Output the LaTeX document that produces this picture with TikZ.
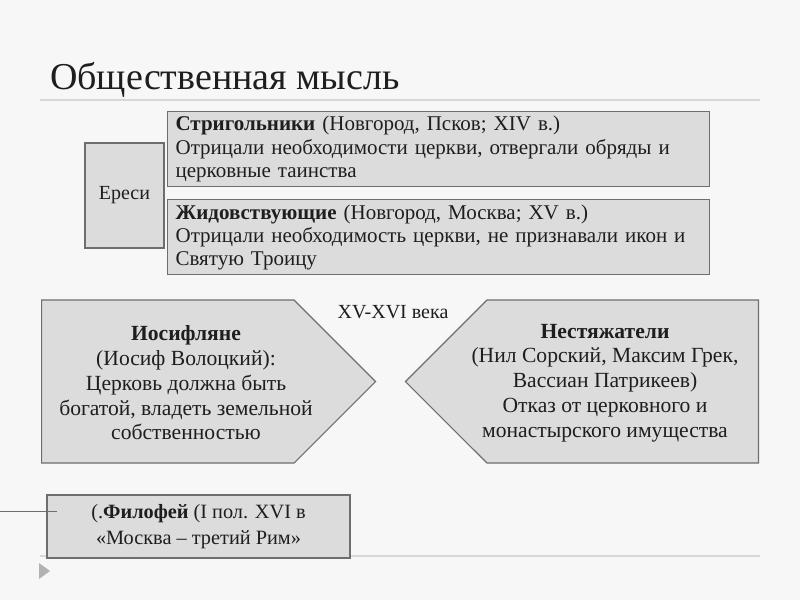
\documentclass[tikz,border=0pt]{standalone}
\usepackage{fontspec}
\setmainfont{Liberation Serif}
\usetikzlibrary{positioning,shapes.symbols}
\definecolor{slidebg}{HTML}{F7F7F7}
\definecolor{boxfill}{HTML}{DCDCDC}
\definecolor{boxline}{HTML}{6E6E6E}
\definecolor{rulegray}{HTML}{D8D8D8}
\definecolor{inkgray}{HTML}{1E1E1E}

\begin{document}
\begin{tikzpicture}[x=1pt,y=-1pt,
      every node/.style={text=inkgray,font=\fontsize{20}{23}\selectfont},
      info box/.style={rectangle,draw=boxline,fill=boxfill,line width=1.2pt,
        inner xsep=8pt,inner ysep=2pt,text width=526pt,minimum height=75pt,align=left,
        font=\fontsize{21}{23.3}\selectfont},
      side box/.style={rectangle,draw=boxline,fill=boxfill,line width=1.2pt,
        minimum width=79pt,minimum height=105pt},
      pent/.style={signal,signal pointer angle=90,draw=boxline,fill=boxfill,
        line width=1.2pt,minimum height=163pt,inner sep=0pt},
      pent text/.style={align=center,font=\fontsize{21.6}{24.75}\selectfont},
      note box/.style={rectangle,draw=boxline,fill=boxfill,line width=1.2pt,
        minimum width=303pt,minimum height=63pt,align=center,
        font=\fontsize{20.3}{26}\selectfont},
      rule/.style={draw=rulegray,line width=1.5pt},
      lead line/.style={draw=boxline,line width=1pt}]
      \fill[slidebg] (0,0) rectangle (800,600);
      \useasboundingbox (0,0) rectangle (800,600);

      % title and slide rules
      \node[anchor=base west,inner sep=0pt,font=\fontsize{38}{38}\selectfont] (title) at (50,89) {Общественная мысль};
      \draw[rule] (40,100) -- (760,100);
      \draw[rule] (40,556) -- (760,556);
      \fill[gray!60] (39,563) -- (50,571) -- (39,579) -- cycle;

      % heresies
      \node[info box,anchor=north west] (strig) at (167,111)
        {\textbf{Стригольники} (Новгород, Псков; XIV в.)\\
         Отрицали необходимости церкви, отвергали обряды и\\
         церковные таинства};
      \node[info box] (zhid) [below=12pt of strig]
        {\textbf{Жидовствующие} (Новгород, Москва; XV в.)\\
         Отрицали необходимость церкви, не признавали икон и\\
         Святую Троицу};
      \node[side box] (heresy) at (124.5,195.5) {Ереси};

      % XV-XVI
      \node (era) at (393,312) {XV-XVI века};
      \node[pent,signal to=east,minimum width=334pt,anchor=west] (iosif) at (41,381.5) {};
      \node[pent,signal to=west,minimum width=353pt,anchor=east] (nil) at (759,381.5) {};
      \node[pent text] (iosiftext) at (186,383)
        {\textbf{Иосифляне}\\(Иосиф Волоцкий):\\Церковь должна быть\\богатой, владеть земельной\\собственностью};
      \node[pent text] (niltext) at (605,383)
        {\textbf{Нестяжатели}\\(Нил Сорский, Максим Грек,\\Вассиан Патрикеев)\\Отказ от церковного и\\монастырского имущества};

      % Filofey
      \node[note box] (filo) at (198.5,526.5)
        {(.\textbf{Филофей} (I пол. XVI в\\«Москва – третий Рим»};
      \coordinate (lead) at (0,511);
      \draw[lead line] (lead) -- ([xshift=11pt]lead -| filo.west);
\end{tikzpicture}
\end{document}
